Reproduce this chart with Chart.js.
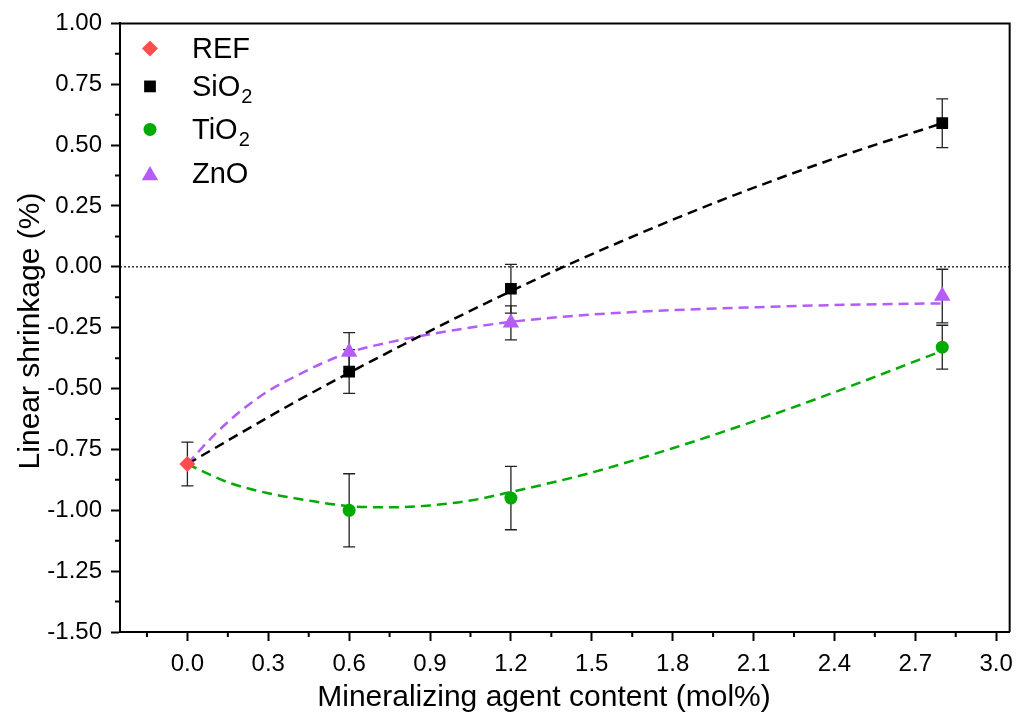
<!DOCTYPE html>
<html>
<head>
<meta charset="utf-8">
<script src="https://cdn.jsdelivr.net/npm/chart.js@4.4.0/dist/chart.umd.min.js"></script>
<style>
    html, body { margin: 0; padding: 0; background: #fff; }
</style>
</head>
<body>
<canvas id="grafico" width="1022" height="715"></canvas>
<script>
// ticks
const xTicks = [0.0, 0.3, 0.6, 0.9, 1.2, 1.5, 1.8, 2.1, 2.4, 2.7, 3.0];
const yTicks = [1.00, 0.75, 0.50, 0.25, 0.00, -0.25, -0.50, -0.75, -1.00, -1.25, -1.50];

// measured points
const refX = [0];
const refY = [-0.81];
const refErr = [0.09];

const dopedX = [0.6, 1.2, 2.8];
const sio2Y = [-0.43, -0.09, 0.59];
const sio2Err = [0.09, 0.10, 0.10];
const tio2Y = [-1.00, -0.95, -0.33];
const tio2Err = [0.15, 0.13, 0.09];
const znoY = [-0.35, -0.23, -0.12];
const znoErr = [0.08, 0.07, 0.11];

// fitted curves
const sio2FitX = [0, 0.4, 0.8, 1.2, 1.6, 2.0, 2.4, 2.8];
const sio2FitY = [-0.81, -0.555, -0.32, -0.10, 0.10, 0.282, 0.445, 0.59];
const tio2FitX = [0, 0.15, 0.3, 0.45, 0.6, 0.75, 0.9, 1.05, 1.2, 1.5, 1.8, 2.1, 2.4, 2.8];
const tio2FitY = [-0.81, -0.885, -0.93, -0.96, -0.983, -0.988, -0.98, -0.96, -0.925, -0.845, -0.745, -0.635, -0.515, -0.345];
const znoFitX = [0, 0.1, 0.2, 0.3, 0.4, 0.5, 0.6, 0.8, 1.0, 1.2, 1.5, 1.8, 2.1, 2.4, 2.8];
const znoFitY = [-0.81, -0.69, -0.59, -0.51, -0.45, -0.396, -0.352, -0.298, -0.258, -0.226, -0.196, -0.178, -0.166, -0.157, -0.15];

const zeroLine = 0;

const corRef = "#ff4d4d";
const corSio2 = "#000000";
const corTio2 = "#00aa00";
const corZno = "#b65cf6";
const fonte = "'Liberation Sans', Arial, sans-serif";

function pontos(xs, ys) {
    return xs.map((x, i) => ({ x: x, y: ys[i] }));
}

const series = [
    { label: "REF", sub: "", xs: refX, ys: refY, err: refErr, style: "rectRot", radius: 8, color: corRef },
    { label: "SiO", sub: "2", xs: dopedX, ys: sio2Y, err: sio2Err, style: "rect", radius: 8.3, color: corSio2 },
    { label: "TiO", sub: "2", xs: dopedX, ys: tio2Y, err: tio2Err, style: "circle", radius: 6.5, color: corTio2 },
    { label: "ZnO", sub: "", xs: dopedX, ys: znoY, err: znoErr, style: "triangle", radius: 9.5, color: corZno }
];

const datasets = series.map(s => ({
    label: s.label,
    data: pontos(s.xs, s.ys),
    pointStyle: s.style,
    pointRadius: s.radius,
    pointHoverRadius: s.radius,
    pointBackgroundColor: s.color,
    pointBorderColor: s.color,
    pointBorderWidth: 0,
    showLine: false
}));

function curva(xs, ys, cor) {
    return {
        data: pontos(xs, ys),
        showLine: true,
        borderColor: cor,
        borderWidth: 2.5,
        borderDash: [10, 6],
        pointRadius: 0,
        cubicInterpolationMode: "monotone",
        fill: false
    };
}

datasets.push(curva(sio2FitX, sio2FitY, corSio2));
datasets.push(curva(tio2FitX, tio2FitY, corTio2));
datasets.push(curva(znoFitX, znoFitY, corZno));

const extras = {
    id: "extras",
    beforeDatasetsDraw(chart) {
        const { ctx, chartArea: a, scales: { y } } = chart;
        const py = y.getPixelForValue(zeroLine);
        ctx.save();
        ctx.strokeStyle = "#000";
        ctx.lineWidth = 1.2;
        ctx.setLineDash([2, 2]);
        ctx.beginPath();
        ctx.moveTo(a.left, py);
        ctx.lineTo(a.right, py);
        ctx.stroke();
        ctx.restore();
    },
    beforeDatasetDraw(chart, args) {
        if (args.index !== series.length - 1) return;
        const { ctx, scales: { x, y } } = chart;
        ctx.save();
        ctx.strokeStyle = "#222";
        ctx.lineWidth = 1.3;
        series.forEach(s => {
            s.xs.forEach((v, i) => {
                const px = x.getPixelForValue(v);
                const top = y.getPixelForValue(s.ys[i] + s.err[i]);
                const bot = y.getPixelForValue(s.ys[i] - s.err[i]);
                ctx.beginPath();
                ctx.moveTo(px, top);
                ctx.lineTo(px, bot);
                ctx.moveTo(px - 6, top);
                ctx.lineTo(px + 6, top);
                ctx.moveTo(px - 6, bot);
                ctx.lineTo(px + 6, bot);
                ctx.stroke();
            });
        });
        ctx.restore();
    },
    afterDraw(chart) {
        const { ctx, chartArea: a, scales: { x, y } } = chart;
        ctx.save();

        // box
        ctx.strokeStyle = "#000";
        ctx.lineWidth = 2;
        ctx.beginPath();
        ctx.moveTo(a.left, a.top);
        ctx.lineTo(a.right, a.top);
        ctx.lineTo(a.right, a.bottom);
        ctx.stroke();

        // minor ticks
        ctx.beginPath();
        for (let i = 0; i < yTicks.length - 1; i++) {
            const py = y.getPixelForValue((yTicks[i] + yTicks[i + 1]) / 2);
            ctx.moveTo(a.left - 5, py);
            ctx.lineTo(a.left, py);
        }
        const passoX = xTicks[1] - xTicks[0];
        const menores = [xTicks[0] - passoX / 2];
        for (let i = 0; i < xTicks.length - 1; i++) menores.push((xTicks[i] + xTicks[i + 1]) / 2);
        menores.forEach(v => {
            const px = x.getPixelForValue(v);
            ctx.moveTo(px, a.bottom);
            ctx.lineTo(px, a.bottom + 5);
        });
        ctx.stroke();

        // axis titles
        ctx.fillStyle = "#000";
        ctx.font = `30px ${fonte}`;
        ctx.textAlign = "center";
        ctx.textBaseline = "alphabetic";
        ctx.fillText("Mineralizing agent content (mol%)", 544, 706);
        ctx.save();
        ctx.translate(39, 331);
        ctx.rotate(-Math.PI / 2);
        ctx.fillText("Linear shrinkage (%)", 0, 0);
        ctx.restore();

        // legend
        const linhas = [25, 63, 106, 150];
        series.forEach((s, i) => {
            const cy = a.top + linhas[i];
            const my = s.style === "triangle" ? cy + 2 : cy;
            ctx.fillStyle = s.color;
            ctx.strokeStyle = s.color;
            ctx.lineWidth = 0;
            Chart.helpers.drawPoint(ctx, { pointStyle: s.style, radius: s.radius, borderWidth: 0 }, a.left + 30, my);
            ctx.fillStyle = "#000";
            ctx.textAlign = "left";
            ctx.font = `29px ${fonte}`;
            const tx = a.left + 72;
            const base = cy + 10;
            ctx.fillText(s.label, tx, base);
            if (s.sub) {
                const w = ctx.measureText(s.label).width;
                ctx.font = `20px ${fonte}`;
                ctx.fillText(s.sub, tx + w + 1, base + 7);
            }
        });

        ctx.restore();
    }
};

const ctx = document.querySelector("#grafico");

const chart = new Chart(ctx, {
    type: "scatter",
    data: { datasets: datasets },
    options: {
        responsive: false,
        animation: false,
        events: [],
        layout: { padding: { top: 23, right: 9, left: 0, bottom: 0 } },
        plugins: {
            legend: { display: false },
            tooltip: { enabled: false }
        },
        scales: {
            x: {
                type: "linear",
                min: -0.25,
                max: 3.05,
                afterBuildTicks: s => { s.ticks = xTicks.map(v => ({ value: v })); },
                afterFit: s => { s.height = 83; },
                ticks: {
                    color: "#000",
                    font: { family: fonte, size: 24 },
                    padding: 9,
                    maxRotation: 0,
                    autoSkip: false,
                    callback: v => Number(v).toFixed(1)
                },
                grid: { drawOnChartArea: false, drawTicks: true, tickLength: 9, tickWidth: 2, tickColor: "#000", color: "#000" },
                border: { display: true, color: "#000", width: 2 }
            },
            y: {
                type: "linear",
                min: -1.5,
                max: 1.0,
                afterBuildTicks: s => { s.ticks = yTicks.map(v => ({ value: v })); },
                afterFit: s => { s.width = 120; },
                ticks: {
                    color: "#000",
                    font: { family: fonte, size: 24 },
                    padding: 9,
                    autoSkip: false,
                    callback: v => Number(v).toFixed(2)
                },
                grid: { drawOnChartArea: false, drawTicks: true, tickLength: 9, tickWidth: 2, tickColor: "#000", color: "#000" },
                border: { display: true, color: "#000", width: 2 }
            }
        }
    },
    plugins: [extras]
});
</script>
</body>
</html>
